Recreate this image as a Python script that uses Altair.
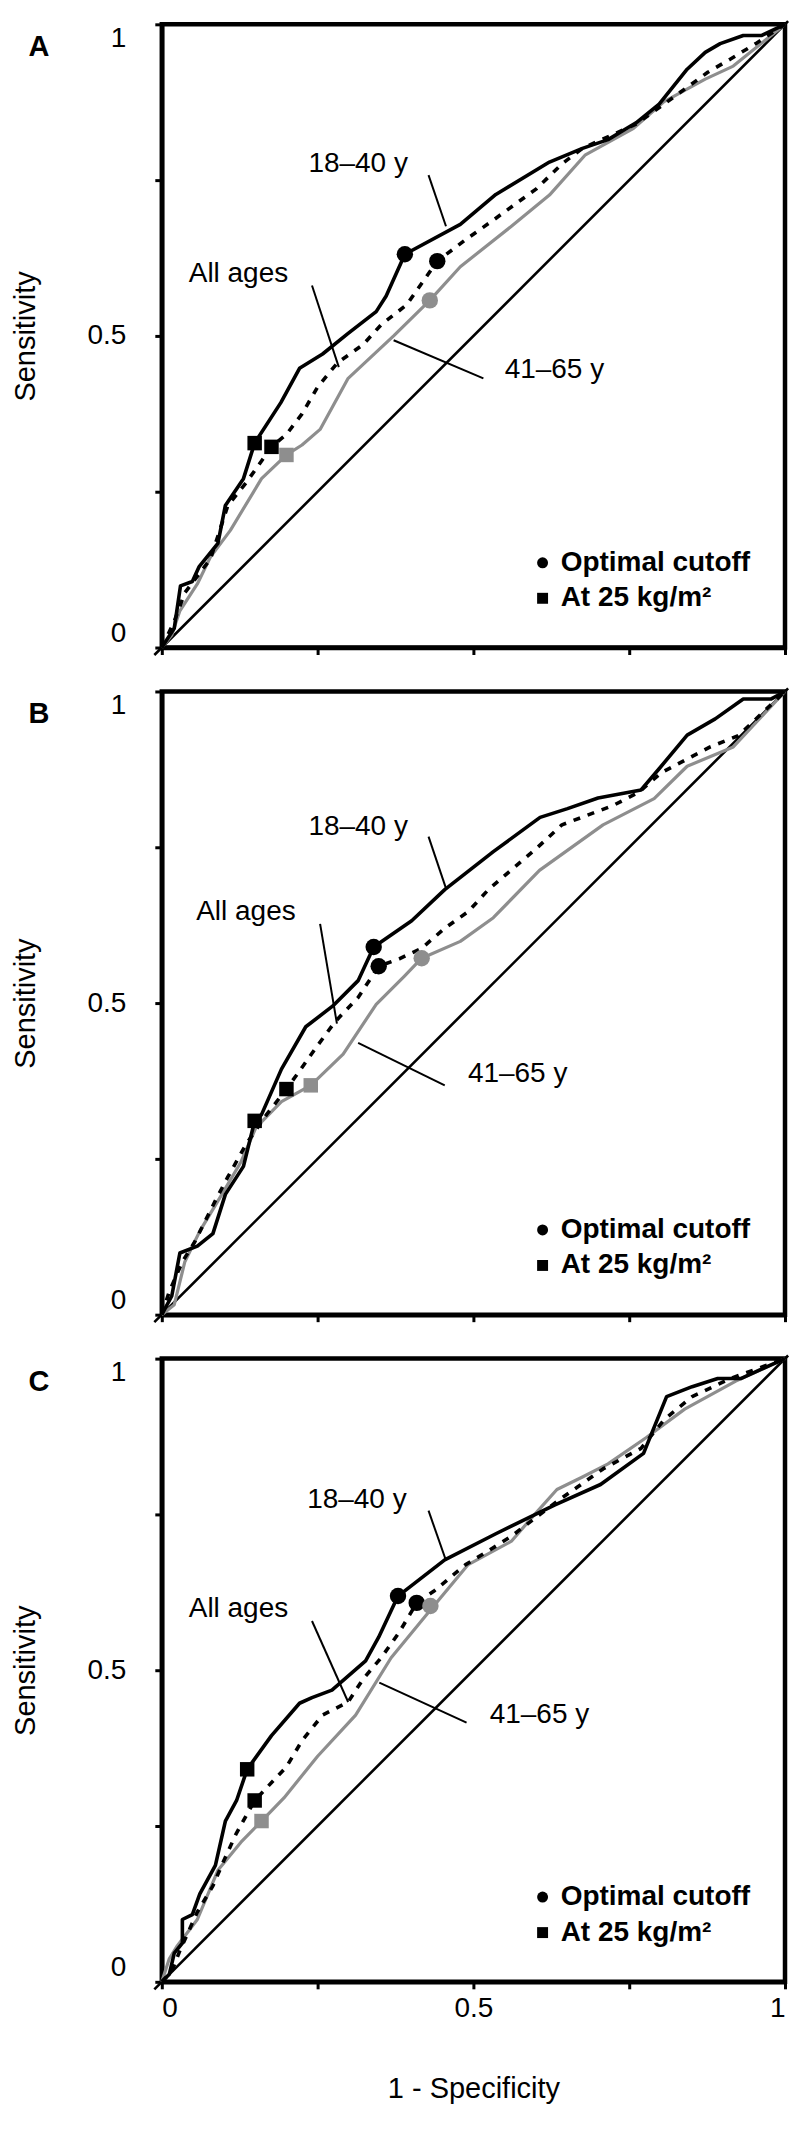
import altair as alt
import pandas as pd

FONT = "Liberation Sans"
BLACK = "#000000"
GRAY = "#8e8e8e"
TICKS = [0, 0.25, 0.5, 0.75, 1]
LBL = "datum.value == 0 ? '0' : datum.value == 0.5 ? '0.5' : datum.value == 1 ? '1' : ''"

series_names = ["18–40 y", "All ages", "41–65 y"]
legend_labels = ["Optimal cutoff", "At 25 kg/m²"]
diag_ends = [-0.012, 1.005]

# ---------------- Panel A ----------------
a_young_x = [0, 0.020, 0.030, 0.049, 0.060, 0.090, 0.102, 0.131, 0.149, 0.191, 0.221, 0.258, 0.299, 0.344, 0.360, 0.390, 0.479, 0.536, 0.622, 0.675, 0.716, 0.761, 0.798, 0.843, 0.872, 0.896, 0.933, 0.962, 1.0]
a_young_y = [0, 0.031, 0.099, 0.106, 0.130, 0.167, 0.228, 0.271, 0.328, 0.393, 0.448, 0.471, 0.504, 0.539, 0.564, 0.631, 0.679, 0.727, 0.779, 0.801, 0.815, 0.842, 0.872, 0.928, 0.955, 0.969, 0.982, 0.982, 1.0]
a_all_x = [0, 0.020, 0.037, 0.078, 0.106, 0.135, 0.176, 0.200, 0.225, 0.250, 0.282, 0.323, 0.352, 0.393, 0.421, 0.442, 0.487, 0.528, 0.601, 0.642, 0.675, 0.761, 0.806, 0.876, 0.912, 0.953, 1.0]
a_all_y = [0, 0.042, 0.088, 0.142, 0.228, 0.264, 0.322, 0.342, 0.375, 0.418, 0.457, 0.486, 0.518, 0.550, 0.590, 0.620, 0.654, 0.683, 0.736, 0.776, 0.801, 0.840, 0.872, 0.923, 0.944, 0.969, 1.0]
a_old_x = [0, 0.016, 0.029, 0.057, 0.078, 0.110, 0.160, 0.200, 0.225, 0.254, 0.299, 0.372, 0.430, 0.479, 0.561, 0.622, 0.679, 0.757, 0.806, 0.872, 0.917, 1.0]
a_old_y = [0, 0.020, 0.059, 0.102, 0.145, 0.188, 0.271, 0.309, 0.325, 0.350, 0.432, 0.500, 0.557, 0.611, 0.676, 0.726, 0.790, 0.833, 0.876, 0.912, 0.933, 1.0]
a_circle_x = [0.390, 0.442, 0.430]
a_circle_y = [0.631, 0.620, 0.557]
a_square_x = [0.149, 0.176, 0.200]
a_square_y = [0.328, 0.322, 0.309]

# ---------------- Panel B ----------------
b_young_x = [0, 0.016, 0.029, 0.057, 0.082, 0.102, 0.131, 0.149, 0.160, 0.192, 0.231, 0.274, 0.315, 0.340, 0.401, 0.454, 0.532, 0.607, 0.651, 0.700, 0.769, 0.798, 0.843, 0.888, 0.933, 0.978, 1.0]
b_young_y = [0, 0.030, 0.099, 0.110, 0.130, 0.193, 0.238, 0.311, 0.321, 0.394, 0.462, 0.495, 0.536, 0.590, 0.632, 0.682, 0.743, 0.798, 0.812, 0.829, 0.842, 0.876, 0.930, 0.956, 0.988, 0.988, 1.0]
b_all_x = [0, 0.012, 0.033, 0.053, 0.086, 0.106, 0.135, 0.168, 0.200, 0.221, 0.250, 0.278, 0.315, 0.348, 0.381, 0.417, 0.454, 0.492, 0.524, 0.601, 0.642, 0.724, 0.765, 0.802, 0.880, 0.925, 1.0]
b_all_y = [0, 0.037, 0.085, 0.117, 0.183, 0.221, 0.273, 0.321, 0.362, 0.391, 0.432, 0.470, 0.509, 0.559, 0.571, 0.588, 0.620, 0.647, 0.682, 0.748, 0.786, 0.817, 0.838, 0.870, 0.911, 0.929, 1.0]
b_old_x = [0, 0.020, 0.037, 0.061, 0.094, 0.127, 0.151, 0.192, 0.239, 0.291, 0.344, 0.389, 0.417, 0.479, 0.532, 0.606, 0.708, 0.790, 0.843, 0.917, 1.0]
b_old_y = [0, 0.016, 0.085, 0.134, 0.189, 0.245, 0.300, 0.342, 0.368, 0.418, 0.498, 0.543, 0.572, 0.599, 0.637, 0.713, 0.786, 0.828, 0.880, 0.911, 1.0]
b_circle_x = [0.340, 0.348, 0.417]
b_circle_y = [0.590, 0.559, 0.572]
b_square_x = [0.149, 0.200, 0.239]
b_square_y = [0.311, 0.362, 0.368]

# ---------------- Panel C ----------------
c_young_x = [0, 0.012, 0.020, 0.033, 0.033, 0.049, 0.061, 0.086, 0.102, 0.120, 0.137, 0.176, 0.221, 0.241, 0.273, 0.327, 0.348, 0.379, 0.454, 0.536, 0.630, 0.704, 0.773, 0.810, 0.851, 0.892, 0.929, 1.0]
c_young_y = [0, 0.012, 0.046, 0.062, 0.100, 0.108, 0.141, 0.187, 0.258, 0.291, 0.341, 0.395, 0.447, 0.456, 0.468, 0.515, 0.553, 0.619, 0.677, 0.719, 0.765, 0.798, 0.848, 0.939, 0.955, 0.968, 0.968, 1.0]
c_all_x = [0, 0.016, 0.029, 0.057, 0.082, 0.098, 0.119, 0.149, 0.200, 0.225, 0.258, 0.299, 0.323, 0.352, 0.381, 0.409, 0.438, 0.487, 0.528, 0.561, 0.600, 0.640, 0.667, 0.708, 0.769, 0.806, 0.851, 0.912, 1.0]
c_all_y = [0, 0.017, 0.050, 0.112, 0.154, 0.191, 0.237, 0.291, 0.345, 0.387, 0.428, 0.449, 0.486, 0.520, 0.561, 0.608, 0.628, 0.669, 0.694, 0.715, 0.745, 0.775, 0.794, 0.823, 0.856, 0.902, 0.939, 0.968, 1.0]
c_old_x = [0, 0.012, 0.025, 0.057, 0.090, 0.127, 0.160, 0.196, 0.250, 0.311, 0.368, 0.432, 0.491, 0.561, 0.593, 0.634, 0.675, 0.716, 0.777, 0.839, 0.921, 1.0]
c_old_y = [0, 0.037, 0.058, 0.100, 0.179, 0.224, 0.258, 0.295, 0.362, 0.428, 0.520, 0.598, 0.669, 0.707, 0.744, 0.790, 0.810, 0.831, 0.873, 0.919, 0.964, 1.0]
c_circle_x = [0.379, 0.409, 0.431]
c_circle_y = [0.619, 0.608, 0.603]
c_square_x = [0.137, 0.149, 0.160]
c_square_y = [0.341, 0.291, 0.258]

# annotation anchors (label centre x, y) and leader lines (x1, y1, x2, y2), per series
a_label_xy = [(0.315, 0.776), (0.123, 0.599), (0.630, 0.446)]
a_leaders = [(0.428, 0.758, 0.456, 0.676), (0.241, 0.581, 0.284, 0.450), (0.372, 0.493, 0.516, 0.432)]
b_label_xy = [(0.315, 0.783), (0.135, 0.646), (0.571, 0.386)]
b_leaders = [(0.428, 0.767, 0.456, 0.684), (0.254, 0.627, 0.281, 0.467), (0.315, 0.436, 0.454, 0.368)]
c_label_xy = [(0.313, 0.773), (0.123, 0.599), (0.606, 0.428)]
c_leaders = [(0.428, 0.756, 0.456, 0.676), (0.241, 0.579, 0.299, 0.449), (0.349, 0.480, 0.489, 0.416)]

legend_marker_x = 0.611
legend_text_x = 0.640
legend_row_y = [0.136, 0.079]


def line_df(xs, ys):
    return pd.DataFrame({"fpr": xs, "tpr": ys, "ord": list(range(len(xs)))})


def make_panel(letter, young, allages, old, circ, sq, label_xy, leaders, bottom):
    xscale = alt.Scale(domain=[0, 1], nice=False, zero=False)
    yscale = alt.Scale(domain=[0, 1], nice=False, zero=False)
    if bottom:
        xaxis = alt.Axis(values=TICKS, labelExpr=LBL, title="1 - Specificity", grid=False,
                         tickSize=7, tickWidth=3, domainWidth=4.5, labelFontSize=28,
                         titleFontSize=29, titleFontWeight="normal", labelPadding=6,
                         titlePadding=52, labelFlush=True, domainColor=BLACK,
                         tickColor=BLACK, labelColor=BLACK, titleColor=BLACK,
                         labelFont=FONT, titleFont=FONT)
    else:
        xaxis = alt.Axis(values=TICKS, labels=False, title=None, grid=False,
                         tickSize=7, tickWidth=3, domainWidth=4.5, domainColor=BLACK,
                         tickColor=BLACK)
    yaxis = alt.Axis(values=TICKS, labelExpr=LBL, title="Sensitivity", grid=False,
                     tickSize=7, tickWidth=3, domainWidth=4.5, labelFontSize=28,
                     titleFontSize=29, titleFontWeight="normal", labelPadding=29,
                     titlePadding=47, labelFlush=True, domainColor=BLACK,
                     tickColor=BLACK, labelColor=BLACK, titleColor=BLACK,
                     labelFont=FONT, titleFont=FONT)
    X = alt.X("fpr:Q", scale=xscale, axis=xaxis)
    Y = alt.Y("tpr:Q", scale=yscale, axis=yaxis)

    diag = alt.Chart(pd.DataFrame({"fpr": diag_ends, "tpr": diag_ends})).mark_line(
        color=BLACK, strokeWidth=2.6, strokeJoin="round").encode(x=X, y=Y)

    l_old = alt.Chart(line_df(*old)).mark_line(
        color=GRAY, strokeWidth=3.2, strokeJoin="round").encode(x=X, y=Y, order="ord:Q")
    l_all = alt.Chart(line_df(*allages)).mark_line(
        color=BLACK, strokeWidth=3.6, strokeDash=[7, 8], strokeJoin="round").encode(
        x=X, y=Y, order="ord:Q")
    l_young = alt.Chart(line_df(*young)).mark_line(
        color=BLACK, strokeWidth=3.6, strokeJoin="round").encode(x=X, y=Y, order="ord:Q")

    lead_df = pd.DataFrame({
        "fpr": [l[0] for l in leaders], "tpr": [l[1] for l in leaders],
        "fpr2": [l[2] for l in leaders], "tpr2": [l[3] for l in leaders]})
    rules = alt.Chart(lead_df).mark_rule(color=BLACK, strokeWidth=2).encode(
        x=X, y=Y, x2="fpr2:Q", y2="tpr2:Q")

    grp = ["dark", "dark", "gray"]
    col = alt.Color("grp:N", scale=alt.Scale(domain=["dark", "gray"], range=[BLACK, GRAY]),
                    legend=None)
    circles = alt.Chart(pd.DataFrame({"fpr": circ[0], "tpr": circ[1], "grp": grp})).mark_point(
        shape="circle", filled=True, size=270, opacity=1).encode(x=X, y=Y, color=col)
    squares = alt.Chart(pd.DataFrame({"fpr": sq[0], "tpr": sq[1], "grp": grp})).mark_point(
        shape="square", filled=True, size=210, opacity=1).encode(x=X, y=Y, color=col)

    lab_df = pd.DataFrame({"fpr": [p[0] for p in label_xy], "tpr": [p[1] for p in label_xy],
                           "label": series_names})
    labels = alt.Chart(lab_df).mark_text(font=FONT, fontSize=28, color=BLACK, align="center",
                                         baseline="middle").encode(x=X, y=Y, text="label:N")

    lm_df = pd.DataFrame({"fpr": [legend_marker_x] * 2, "tpr": legend_row_y})
    leg_c = alt.Chart(lm_df.iloc[[0]]).mark_point(shape="circle", filled=True, size=120,
                                                 color=BLACK, opacity=1).encode(x=X, y=Y)
    leg_s = alt.Chart(lm_df.iloc[[1]]).mark_point(shape="square", filled=True, size=120,
                                                 color=BLACK, opacity=1).encode(x=X, y=Y)
    lt_df = pd.DataFrame({"fpr": [legend_text_x] * 2, "tpr": legend_row_y, "label": legend_labels})
    leg_t = alt.Chart(lt_df).mark_text(font=FONT, fontSize=28, fontWeight="bold", color=BLACK,
                                      align="left", baseline="middle").encode(
        x=X, y=Y, text="label:N")

    letter_t = alt.Chart(pd.DataFrame({"t": [letter]})).mark_text(
        font=FONT, fontSize=29, fontWeight="bold", color=BLACK, align="center",
        baseline="middle").encode(x=alt.value(-123), y=alt.value(23), text="t:N")

    return alt.layer(diag, l_old, l_all, l_young, rules, circles, squares, labels,
                     leg_c, leg_s, leg_t, letter_t).properties(width=624, height=624)


pa = make_panel("A", (a_young_x, a_young_y), (a_all_x, a_all_y), (a_old_x, a_old_y),
                (a_circle_x, a_circle_y), (a_square_x, a_square_y), a_label_xy, a_leaders, False)
pb = make_panel("B", (b_young_x, b_young_y), (b_all_x, b_all_y), (b_old_x, b_old_y),
                (b_circle_x, b_circle_y), (b_square_x, b_square_y), b_label_xy, b_leaders, False)
pc = make_panel("C", (c_young_x, c_young_y), (c_all_x, c_all_y), (c_old_x, c_old_y),
                (c_circle_x, c_circle_y), (c_square_x, c_square_y), c_label_xy, c_leaders, True)

chart = alt.vconcat(pa, pb, pc, spacing=44, bounds="flush").properties(
    padding={"left": 0, "top": 8, "right": 0, "bottom": 4}
).configure_view(
    stroke=BLACK, strokeWidth=4.5
).configure_axis(
    labelColor=BLACK, titleColor=BLACK, domainColor=BLACK, tickColor=BLACK,
    labelFont=FONT, titleFont=FONT
)

chart.save("out.html", embed_options={"renderer": "svg", "actions": False})
